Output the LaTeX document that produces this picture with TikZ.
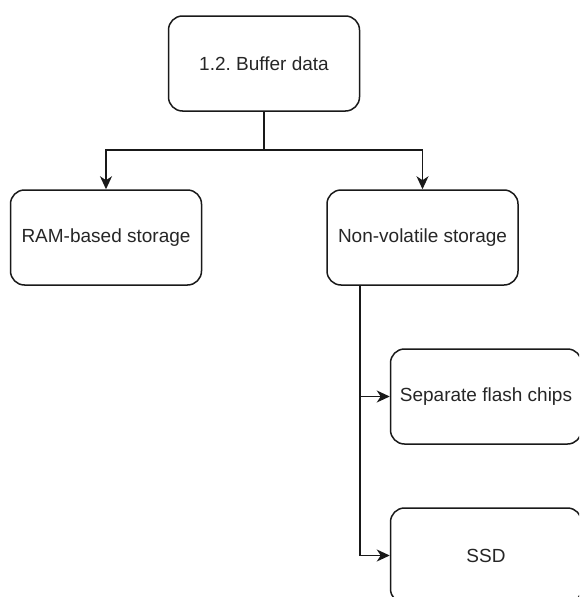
\documentclass[tikz,border=0pt]{standalone}
\usepackage{fontspec}
\setmainfont{Liberation Sans}
\usetikzlibrary{arrows.meta}
\frenchspacing
\begin{document}
\begin{tikzpicture}[x=1pt,y=1pt,
  box/.style={draw=black!90, line width=1.5pt, rounded corners=14pt,
    minimum width=191pt, minimum height=95pt, inner sep=0pt,
    text=black!85, font=\fontsize{19}{23}\selectfont},
  link/.style={draw=black!90, line width=1.5pt},
  arr/.style={link, -{Stealth[length=13pt,width=12pt,inset=4pt]}}]
\useasboundingbox (0,0) rectangle (579,-597);
\begin{scope}
\clip (0,0) rectangle (579,-597);
% boxes
\node[box] (top)   at (264,-63.5)  {1.2. Buffer data};
\node[box] (ram)   at (106,-237.5) {RAM-based storage};
\node[box] (nv)    at (422.5,-237.5) {Non-volatile storage};
\node[box] (flash) at (486,-396.5) {Separate flash chips};
\node[box] (ssd)   at (486,-555.5) {SSD};
% tree connectors
\coordinate (split) at (264,-150);
\coordinate (trunk) at (360,0);
\draw[link] (top.south) -- (split);
\draw[arr] (split) -| (ram.north);
\draw[arr] (split) -| (nv.north);
\draw[arr] (nv.south -| trunk) |- (flash.west);
\draw[arr] (nv.south -| trunk) |- (ssd.west);
\end{scope}
\end{tikzpicture}
\end{document}
